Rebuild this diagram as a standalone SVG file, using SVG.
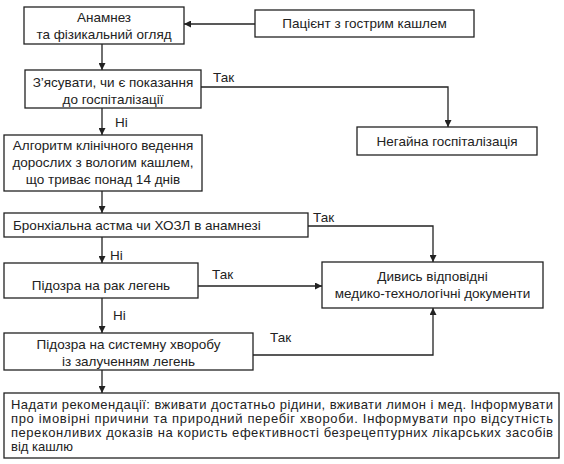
<svg xmlns="http://www.w3.org/2000/svg" width="564" height="464" viewBox="0 0 564 464">
<style>
.box{fill:#fff;stroke:#222;stroke-width:1.3}
.c{fill:none;stroke:#222;stroke-width:1.3}
text{font-family:"Liberation Sans",Arial,sans-serif;font-size:13.5px;fill:#222}
.m{text-anchor:middle}
.j{font-size:13px}
</style>
<defs>
<marker id="ah" viewBox="0 0 10 10" refX="10" refY="5" markerWidth="7" markerHeight="7" markerUnits="userSpaceOnUse" orient="auto">
<path d="M0,0 L10,5 L0,10 z" fill="#222"/>
</marker>
</defs>
<rect width="564" height="464" fill="#fff"/>
<g id="connectors">
<line class="c" x1="255" y1="24" x2="184" y2="24" marker-end="url(#ah)"/>
<line class="c" x1="102" y1="44" x2="102" y2="70" marker-end="url(#ah)"/>
<polyline class="c" points="201,87 448,87 448,127" marker-end="url(#ah)"/>
<line class="c" x1="102" y1="108" x2="102" y2="135" marker-end="url(#ah)"/>
<line class="c" x1="102" y1="191" x2="102" y2="213" marker-end="url(#ah)"/>
<polyline class="c" points="308,226 433,226 433,262" marker-end="url(#ah)"/>
<line class="c" x1="102" y1="237" x2="102" y2="263" marker-end="url(#ah)"/>
<line class="c" x1="198" y1="286" x2="322" y2="286" marker-end="url(#ah)"/>
<line class="c" x1="102" y1="298" x2="102" y2="333" marker-end="url(#ah)"/>
<polyline class="c" points="253,355 433,355 433,308" marker-end="url(#ah)"/>
<line class="c" x1="102" y1="370" x2="102" y2="393" marker-end="url(#ah)"/>
<text x="213" y="82">Так</text>
<text x="115" y="127">Ні</text>
<text x="313" y="222">Так</text>
<text x="110" y="260">Ні</text>
<text x="212" y="279">Так</text>
<text x="113" y="320">Ні</text>
<text x="270" y="342">Так</text>
</g>
<g id="anamnez">
<rect class="box" x="24" y="7" width="160" height="37"/>
<text class="m" x="104" y="22">Анамнез</text>
<text class="m" x="104" y="39">та фізикальний огляд</text>
</g>
<g id="patient">
<rect class="box" x="255" y="10" width="219" height="27"/>
<text class="m" x="364.5" y="28">Пацієнт з гострим кашлем</text>
</g>
<g id="check">
<rect class="box" x="25" y="70" width="176" height="38"/>
<text class="m" x="113" y="87">З’ясувати, чи є показання</text>
<text class="m" x="113" y="104">до госпіталізації</text>
</g>
<g id="hosp">
<rect class="box" x="357" y="127" width="180" height="28"/>
<text class="m" x="447" y="146">Негайна госпіталізація</text>
</g>
<g id="algo">
<rect class="box" x="4" y="135" width="198" height="56"/>
<text class="m" x="103" y="150">Алгоритм клінічного ведення</text>
<text class="m" x="103" y="167">дорослих з вологим кашлем,</text>
<text class="m" x="103" y="184">що триває понад 14 днів</text>
</g>
<g id="asthma">
<rect class="box" x="4" y="213" width="304" height="24"/>
<text x="13" y="230">Бронхіальна астма чи ХОЗЛ в анамнезі</text>
</g>
<g id="docs">
<rect class="box" x="322" y="262" width="221" height="46"/>
<text class="m" x="432.5" y="281">Дивись відповідні</text>
<text class="m" x="432.5" y="298">медико-технологічні документи</text>
</g>
<g id="cancer">
<rect class="box" x="4" y="263" width="194" height="35"/>
<text class="m" x="101" y="290">Підозра на рак легень</text>
</g>
<g id="systemic">
<rect class="box" x="4" y="333" width="249" height="37"/>
<text class="m" x="128.5" y="349">Підозра на системну хворобу</text>
<text class="m" x="128.5" y="366">із залученням легень</text>
</g>
<g id="advice">
<rect class="box" x="4" y="393" width="555" height="65"/>
<text class="j" x="11" y="409" textLength="542" lengthAdjust="spacing">Надати рекомендації: вживати достатньо рідини, вживати лимон і мед. Інформувати</text>
<text class="j" x="11" y="423" textLength="542" lengthAdjust="spacing">про імовірні причини та природний перебіг хвороби. Інформувати про відсутність</text>
<text class="j" x="11" y="437" textLength="542" lengthAdjust="spacing">переконливих доказів на користь ефективності безрецептурних лікарських засобів</text>
<text class="j" x="11" y="451">від кашлю</text>
</g>
</svg>
